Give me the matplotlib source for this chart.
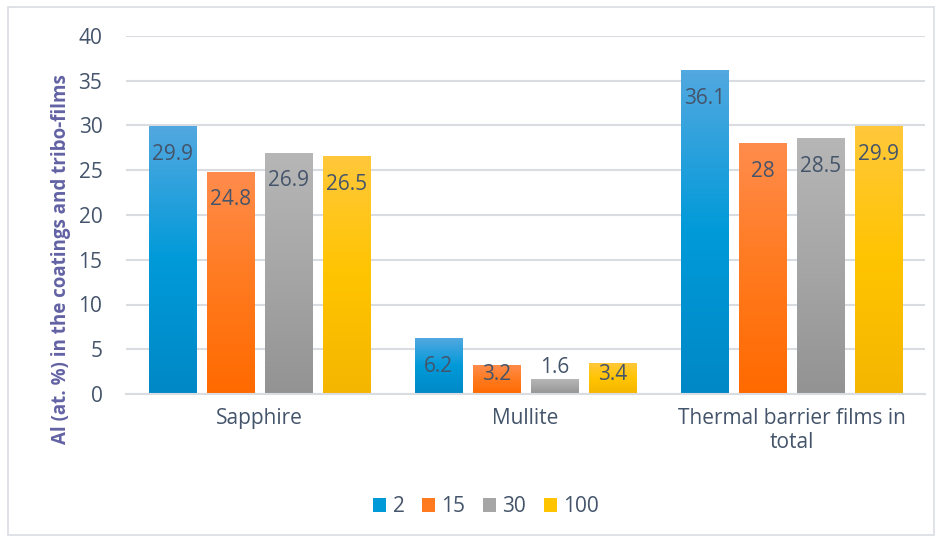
import matplotlib.pyplot as plt
import matplotlib.colors as mcolors
from matplotlib.patches import Rectangle
import numpy as np

plt.rcParams['font.family'] = ['Open Sans', 'DejaVu Sans']

categories = ['Sapphire', 'Mullite', 'Thermal barrier films in\ntotal']
series_names = ['2', '15', '30', '100']
values = [
    [29.9, 6.2, 36.1],
    [24.8, 3.2, 28.0],
    [26.9, 1.6, 28.5],
    [26.5, 3.4, 29.9],
]

# top, middle, bottom shades for each series
gradients = [
    ['#52a8e0', '#009ad9', '#0088c6'],
    ['#ff8c4c', '#ff7a1f', '#ff6a00'],
    ['#b6b6b6', '#a6a6a6', '#939393'],
    ['#ffc83a', '#ffc400', '#f5b600'],
]

text_col = '#44546a'
grid_col = '#d9dde2'
fs = 15

fig = plt.figure(figsize=(9.42, 5.40), dpi=100)
fig.patches.append(Rectangle((0.008, 0.009), 0.984, 0.978, transform=fig.transFigure,
                             fill=False, edgecolor='#d9dde2', linewidth=1.2))
ax = fig.add_axes([126 / 942, 1 - 394 / 540, (925 - 126) / 942, (394 - 36) / 540])

bar_w = 0.177
step = 0.218
x = np.arange(len(categories))

for i, (vals, grad) in enumerate(zip(values, gradients)):
    cmap = mcolors.LinearSegmentedColormap.from_list('g%d' % i, grad[::-1])
    offs = (i - 1.5) * step
    for xi, v in zip(x, vals):
        left = xi + offs - bar_w / 2
        img = np.linspace(0, 1, 100).reshape(-1, 1)
        ax.imshow(img, extent=[left, left + bar_w, 0, v], origin='lower', cmap=cmap,
                  aspect='auto', zorder=2, interpolation='bilinear')
        # label inside the top of the bar, or just above it when the bar is too short
        if v < 2:
            ly = v + 1.4
        else:
            ly = max(v - 3.1, 2.2)
        ax.text(xi + offs, ly, '%g' % v, ha='center', va='center', fontsize=fs,
                color=text_col, zorder=3)

# legend handles
for name, grad in zip(series_names, gradients):
    ax.bar([0], [0], color=grad[1], label=name)

ax.set_xlim(-0.5, 2.5)
ax.set_ylim(0, 40)
ax.set_yticks(range(0, 41, 5))
ax.set_xticks(x)
ax.set_xticklabels(categories, fontsize=fs, color=text_col, linespacing=1.2)
ax.tick_params(axis='y', labelsize=fs, labelcolor=text_col, length=0, pad=17)
ax.tick_params(axis='x', length=0, pad=10)
ax.grid(axis='y', color=grid_col, linewidth=1.5, zorder=0)
ax.set_axisbelow(True)
for s in ['top', 'right', 'left']:
    ax.spines[s].set_visible(False)
ax.spines['bottom'].set_color(grid_col)
ax.spines['bottom'].set_linewidth(1.5)

ax.set_ylabel('Al (at. %) in the coatings and tribo-films', fontsize=13.5,
              fontweight='bold', color='#6262a4', va='center')
ax.yaxis.set_label_coords(-0.081, 0.377)

fig.legend(loc='center', bbox_to_anchor=(486 / 942, 1 - 507 / 540), ncol=4, frameon=False,
           fontsize=fs, labelcolor=text_col, handlelength=0.62, handleheight=0.62,
           handletextpad=0.3, columnspacing=0.85)

fig.savefig('out.png', dpi=100)
